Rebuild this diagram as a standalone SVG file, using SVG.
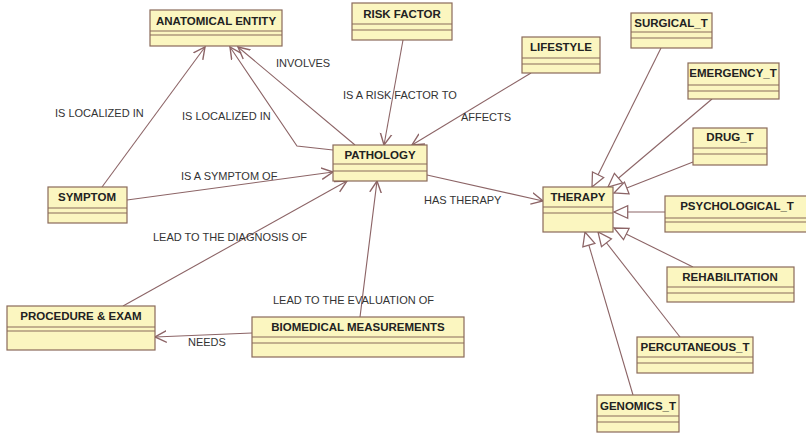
<svg xmlns="http://www.w3.org/2000/svg" width="806" height="433" viewBox="0 0 806 433">
<style>
.box{fill:#fbf6c0;stroke:#8a6a5a;stroke-width:1.2}
.sep{stroke:#8a6a5a;stroke-width:1.2}
.t{font-family:"Liberation Sans",Arial,sans-serif;font-size:11.5px;font-weight:bold;fill:#222;text-anchor:middle}
.lbl{font-family:"Liberation Sans",Arial,sans-serif;font-size:11px;fill:#333}
.c{fill:none;stroke:#8c6466;stroke-width:1.1}
.a{marker-end:url(#open)}
.g{marker-end:url(#tri)}
</style>
<defs>
<marker id="open" markerUnits="userSpaceOnUse" markerWidth="14" markerHeight="14" refX="10" refY="5" orient="auto" viewBox="0 0 12 10">
<path d="M0,0 L10,5 L0,10" fill="none" stroke="#8c6466" stroke-width="1.2"/>
</marker>
<marker id="tri" markerUnits="userSpaceOnUse" markerWidth="16" markerHeight="16" refX="13" refY="6" orient="auto" viewBox="0 0 14 12">
<path d="M1,0.5 L13,6 L1,11.5 Z" fill="#fff" stroke="#8c6466" stroke-width="1.1"/>
</marker>
</defs>
<rect width="806" height="433" fill="#fff"/>
<g id="connectors">
<line class="c a" x1="102" y1="187" x2="205" y2="47"/>
<polyline class="c a" points="333,150 297,146 230,47"/>
<line class="c a" x1="355" y1="145" x2="238" y2="47"/>
<line class="c a" x1="403" y1="40" x2="384" y2="145"/>
<line class="c a" x1="531" y1="73" x2="412" y2="145"/>
<line class="c a" x1="127" y1="200" x2="333" y2="172"/>
<line class="c a" x1="123" y1="306" x2="347" y2="181"/>
<line class="c a" x1="360" y1="317" x2="377" y2="181"/>
<line class="c a" x1="427" y1="175" x2="543" y2="201"/>
<line class="c a" x1="252" y1="333" x2="155" y2="337"/>
<line class="c g" x1="661" y1="48" x2="592" y2="187"/>
<line class="c g" x1="712" y1="99" x2="608" y2="187"/>
<line class="c g" x1="693" y1="162" x2="614" y2="193"/>
<line class="c g" x1="665" y1="212" x2="614" y2="212"/>
<line class="c g" x1="693" y1="267" x2="614" y2="228"/>
<line class="c g" x1="680" y1="337" x2="598" y2="232"/>
<line class="c g" x1="633" y1="395" x2="585" y2="232"/>
<text class="lbl" x="276" y="67">INVOLVES</text>
<text class="lbl" x="55" y="117">IS LOCALIZED IN</text>
<text class="lbl" x="182" y="120">IS LOCALIZED IN</text>
<text class="lbl" x="343" y="99">IS A RISK FACTOR TO</text>
<text class="lbl" x="461" y="121">AFFECTS</text>
<text class="lbl" x="181" y="180">IS A SYMPTOM OF</text>
<text class="lbl" x="424" y="204">HAS THERAPY</text>
<text class="lbl" x="153" y="241">LEAD TO THE DIAGNOSIS OF</text>
<text class="lbl" x="273" y="304">LEAD TO THE EVALUATION OF</text>
<text class="lbl" x="188" y="346">NEEDS</text>
</g>
<g id="anatomical_entity"><rect class="box" x="150" y="10" width="132" height="36"/><line class="sep" x1="150" y1="31" x2="282" y2="31"/><line class="sep" x1="150" y1="35" x2="282" y2="35"/><text class="t" x="216" y="25">ANATOMICAL ENTITY</text></g>
<g id="risk_factor"><rect class="box" x="352" y="3" width="100" height="37"/><line class="sep" x1="352" y1="24" x2="452" y2="24"/><line class="sep" x1="352" y1="30" x2="452" y2="30"/><text class="t" x="402" y="18">RISK FACTOR</text></g>
<g id="lifestyle"><rect class="box" x="522" y="37" width="78" height="36"/><line class="sep" x1="522" y1="58" x2="600" y2="58"/><line class="sep" x1="522" y1="64" x2="600" y2="64"/><text class="t" x="561" y="51">LIFESTYLE</text></g>
<g id="pathology"><rect class="box" x="333" y="145" width="94" height="36"/><line class="sep" x1="333" y1="164" x2="427" y2="164"/><line class="sep" x1="333" y1="171" x2="427" y2="171"/><text class="t" x="380" y="159">PATHOLOGY</text></g>
<g id="symptom"><rect class="box" x="48" y="187" width="79" height="36"/><line class="sep" x1="48" y1="208" x2="127" y2="208"/><line class="sep" x1="48" y1="213" x2="127" y2="213"/><text class="t" x="87" y="201">SYMPTOM</text></g>
<g id="therapy"><rect class="box" x="543" y="187" width="70" height="45"/><line class="sep" x1="543" y1="207" x2="613" y2="207"/><line class="sep" x1="543" y1="213" x2="613" y2="213"/><text class="t" x="578" y="201">THERAPY</text></g>
<g id="procedure_exam"><rect class="box" x="7" y="306" width="148" height="44"/><line class="sep" x1="7" y1="327" x2="155" y2="327"/><line class="sep" x1="7" y1="331" x2="155" y2="331"/><text class="t" x="81" y="320">PROCEDURE &amp; EXAM</text></g>
<g id="biomedical_measurements"><rect class="box" x="252" y="317" width="212" height="40"/><line class="sep" x1="252" y1="337" x2="464" y2="337"/><line class="sep" x1="252" y1="343" x2="464" y2="343"/><text class="t" x="358" y="331">BIOMEDICAL MEASUREMENTS</text></g>
<g id="surgical_t"><rect class="box" x="631" y="13" width="81" height="35"/><line class="sep" x1="631" y1="32" x2="712" y2="32"/><line class="sep" x1="631" y1="38" x2="712" y2="38"/><text class="t" x="671" y="27">SURGICAL_T</text></g>
<g id="emergency_t"><rect class="box" x="688" y="63" width="91" height="36"/><line class="sep" x1="688" y1="85" x2="779" y2="85"/><line class="sep" x1="688" y1="91" x2="779" y2="91"/><text class="t" x="733" y="77">EMERGENCY_T</text></g>
<g id="drug_t"><rect class="box" x="693" y="128" width="74" height="37"/><line class="sep" x1="693" y1="148" x2="767" y2="148"/><line class="sep" x1="693" y1="154" x2="767" y2="154"/><text class="t" x="730" y="141">DRUG_T</text></g>
<g id="psychological_t"><rect class="box" x="665" y="196" width="145" height="36"/><line class="sep" x1="665" y1="218" x2="810" y2="218"/><line class="sep" x1="665" y1="222" x2="810" y2="222"/><text class="t" x="737" y="210">PSYCHOLOGICAL_T</text></g>
<g id="rehabilitation"><rect class="box" x="667" y="267" width="127" height="35"/><line class="sep" x1="667" y1="287" x2="794" y2="287"/><line class="sep" x1="667" y1="293" x2="794" y2="293"/><text class="t" x="730" y="281">REHABILITATION</text></g>
<g id="percutaneous_t"><rect class="box" x="637" y="337" width="116" height="36"/><line class="sep" x1="637" y1="357" x2="753" y2="357"/><line class="sep" x1="637" y1="363" x2="753" y2="363"/><text class="t" x="695" y="351">PERCUTANEOUS_T</text></g>
<g id="genomics_t"><rect class="box" x="597" y="395" width="82" height="37"/><line class="sep" x1="597" y1="416" x2="679" y2="416"/><line class="sep" x1="597" y1="422" x2="679" y2="422"/><text class="t" x="638" y="410">GENOMICS_T</text></g>
</svg>
